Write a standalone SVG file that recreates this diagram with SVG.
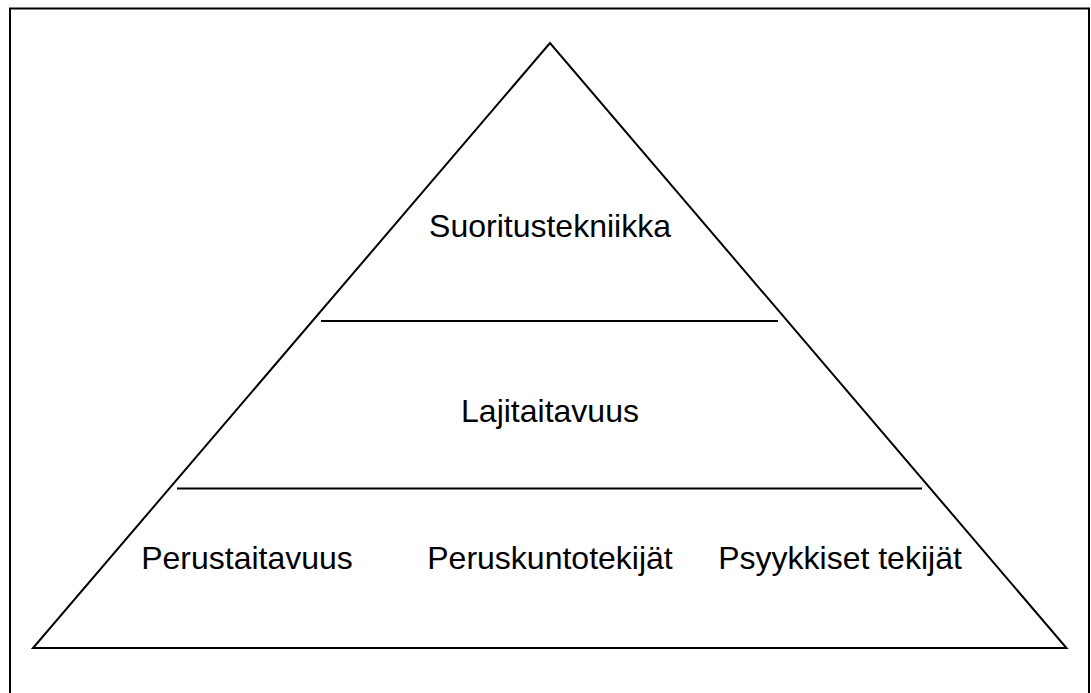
<svg xmlns="http://www.w3.org/2000/svg" width="1091" height="693" viewBox="0 0 1091 693">
  <style>
    .edge { fill: none; stroke: #000; stroke-width: 2; }
    .div { stroke: #000; stroke-width: 2; }
    .lbl { font-family: "Liberation Sans", Arial, sans-serif; font-size: 32px; fill: #000; text-anchor: middle; }
  </style>
  <rect width="1091" height="693" fill="#fff"/>
  <!-- outer frame -->
  <rect id="frame" x="10" y="8.5" width="1079" height="690" fill="none" stroke="#000" stroke-width="2"/>
  <!-- pyramid outline and level dividers -->
  <g id="connectors">
    <polygon class="edge" points="550,43 33,648 1066.5,648" stroke-linejoin="miter"/>
    <line class="div" x1="321" y1="321" x2="778" y2="321"/>
    <line class="div" x1="177" y1="488.5" x2="922" y2="488.5"/>
  </g>
  <g id="level-top">
    <text class="lbl" x="550" y="237">Suoritustekniikka</text>
  </g>
  <g id="level-middle">
    <text class="lbl" x="550" y="422">Lajitaitavuus</text>
  </g>
  <g id="level-base-1">
    <text class="lbl" x="247" y="569">Perustaitavuus</text>
  </g>
  <g id="level-base-2">
    <text class="lbl" x="550" y="569">Peruskuntotekijät</text>
  </g>
  <g id="level-base-3">
    <text class="lbl" x="840" y="569">Psyykkiset tekijät</text>
  </g>
</svg>
